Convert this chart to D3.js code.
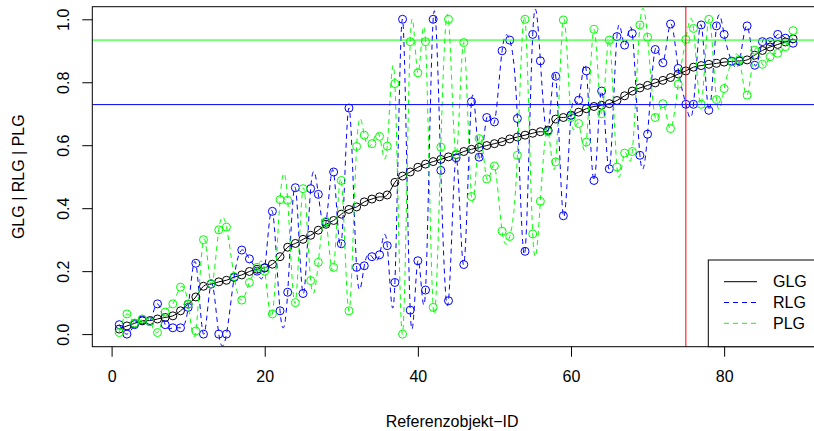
<!DOCTYPE html>
<html>
<head>
<meta charset="utf-8">
<script src="https://cdn.jsdelivr.net/npm/d3@7"></script>
<style>
  body { margin: 0; background: #fff; }
  svg text { font-family: "Liberation Sans", Arial, sans-serif; fill: #000; }
</style>
</head>
<body>
<div id="chart"></div>
<script>
// Reference object IDs 1..89
const ids = d3.range(1, 90);

const glg = [0.016, 0.026, 0.034, 0.042, 0.043, 0.048, 0.053, 0.058, 0.074, 0.095,
  0.118, 0.152, 0.159, 0.166, 0.171, 0.181, 0.188, 0.199, 0.206, 0.211,
  0.222, 0.246, 0.276, 0.288, 0.301, 0.314, 0.330, 0.349, 0.361, 0.381,
  0.396, 0.404, 0.420, 0.429, 0.436, 0.442, 0.482, 0.502, 0.515, 0.530,
  0.540, 0.548, 0.555, 0.563, 0.570, 0.580, 0.587, 0.593, 0.599, 0.605,
  0.611, 0.620, 0.626, 0.632, 0.638, 0.643, 0.648, 0.683, 0.688, 0.695,
  0.705, 0.716, 0.723, 0.727, 0.732, 0.742, 0.757, 0.772, 0.782, 0.790,
  0.798, 0.806, 0.815, 0.826, 0.836, 0.848, 0.853, 0.857, 0.860, 0.864,
  0.866, 0.868, 0.871, 0.886, 0.901, 0.912, 0.920, 0.928, 0.938];

const rlg = [0.030, 0.000, 0.030, 0.045, 0.040, 0.096, 0.030, 0.020, 0.020, 0.085,
  0.225, 0.000, 0.160, 0.000, 0.000, 0.180, 0.267, 0.239, 0.200, 0.210,
  0.390, 0.074, 0.133, 0.465, 0.129, 0.462, 0.444, 0.355, 0.515, 0.287,
  0.718, 0.212, 0.217, 0.246, 0.252, 0.281, 0.164, 1.000, 0.076, 0.233,
  0.140, 1.000, 0.520, 0.106, 0.560, 0.221, 0.738, 0.562, 0.688, 0.674,
  0.900, 0.934, 0.685, 0.263, 0.952, 0.868, 0.645, 0.819, 0.376, 0.695,
  0.743, 0.836, 0.488, 0.772, 0.525, 0.945, 0.918, 0.955, 0.568, 0.635,
  0.904, 0.862, 0.985, 0.844, 0.730, 0.730, 0.982, 0.711, 0.979, 0.952,
  0.867, 0.867, 0.979, 0.854, 0.929, 0.929, 0.952, 0.940, 0.924];

const plg = [0.005, 0.064, 0.035, 0.048, 0.040, 0.005, 0.070, 0.096, 0.149, 0.095,
  0.010, 0.300, 0.160, 0.331, 0.340, 0.183, 0.108, 0.164, 0.212, 0.200,
  0.064, 0.427, 0.425, 0.100, 0.462, 0.170, 0.228, 0.358, 0.212, 0.488,
  0.074, 0.596, 0.632, 0.605, 0.628, 0.597, 0.796, 0.000, 0.929, 0.830,
  0.929, 0.085, 0.594, 1.000, 0.571, 0.926, 0.437, 0.621, 0.493, 0.534,
  0.327, 0.310, 0.568, 1.000, 0.318, 0.422, 0.643, 0.547, 0.998, 0.688,
  0.669, 0.610, 0.968, 0.700, 0.934, 0.531, 0.575, 0.580, 0.982, 0.943,
  0.688, 0.732, 0.653, 0.794, 0.936, 0.971, 0.730, 1.000, 0.745, 0.780,
  0.865, 0.872, 0.759, 0.902, 0.857, 0.881, 0.892, 0.913, 0.964];

const seriesNames = ['GLG', 'RLG', 'PLG'];
const xTicks = [0, 20, 40, 60, 80];
const yTicks = [0, 0.2, 0.4, 0.6, 0.8, 1.0];

// Reference lines
const hLineBlue = 0.729;
const hLineGreen = 0.934;
const vLineRed = 75;

const width = 814, height = 431;
const margin = { left: 92.3, right: -6, top: 6.7, bottom: 84.3 };

const svg = d3.select('#chart')
    .append('svg')
    .attr('width', width)
    .attr('height', height);

// R-style 4% axis extension
const x = d3.scaleLinear()
    .domain([1 - 0.04 * 88, 89 + 0.04 * 88])
    .range([margin.left, width - margin.right]);
const y = d3.scaleLinear()
    .domain([-0.04, 1.04])
    .range([height - margin.bottom, margin.top]);

svg.append('clipPath').attr('id', 'plotclip')
    .append('rect')
    .attr('x', margin.left)
    .attr('y', margin.top)
    .attr('width', width - margin.right - margin.left)
    .attr('height', height - margin.bottom - margin.top);

const plot = svg.append('g').attr('clip-path', 'url(#plotclip)');

const series = [
    { name: 'GLG', values: glg, color: '#000000', dash: null },
    { name: 'RLG', values: rlg, color: '#0000ff', dash: '5,4' },
    { name: 'PLG', values: plg, color: '#00ff00', dash: '5,4' }
];

const line = d3.line()
    .x((d, i) => x(ids[i]))
    .y(d => y(d))
    .curve(d3.curveNatural);

series.forEach(s => {
    plot.append('path')
        .attr('d', line(s.values))
        .attr('fill', 'none')
        .attr('stroke', s.color)
        .attr('stroke-width', 1)
        .attr('stroke-dasharray', s.dash);

    plot.selectAll(null)
        .data(s.values)
        .enter()
        .append('circle')
        .attr('cx', (d, i) => x(ids[i]))
        .attr('cy', d => y(d))
        .attr('r', 4)
        .attr('fill', 'none')
        .attr('stroke', s.color)
        .attr('stroke-width', 1);
});

// abline lines
plot.append('line')
    .attr('x1', margin.left).attr('x2', width - margin.right)
    .attr('y1', y(hLineBlue)).attr('y2', y(hLineBlue))
    .attr('stroke', '#0000ff');
plot.append('line')
    .attr('x1', margin.left).attr('x2', width - margin.right)
    .attr('y1', y(hLineGreen)).attr('y2', y(hLineGreen))
    .attr('stroke', '#00ff00');
plot.append('line')
    .attr('x1', x(vLineRed)).attr('x2', x(vLineRed))
    .attr('y1', margin.top).attr('y2', height - margin.bottom)
    .attr('stroke', '#ff0000');

// Box
svg.append('rect')
    .attr('x', margin.left)
    .attr('y', margin.top)
    .attr('width', width - margin.right - margin.left)
    .attr('height', height - margin.bottom - margin.top)
    .attr('fill', 'none')
    .attr('stroke', '#000');

// X axis
const xAxis = svg.append('g')
    .attr('transform', `translate(0,${height - margin.bottom})`)
    .call(d3.axisBottom(x).tickValues(xTicks).tickSize(10).tickPadding(14).tickFormat(d3.format('d')));
xAxis.select('.domain').remove();
xAxis.selectAll('text').style('font-size', '16px')
    .attr('font-family', '"Liberation Sans", Arial, sans-serif');

// Y axis
const yAxis = svg.append('g')
    .attr('transform', `translate(${margin.left},0)`)
    .call(d3.axisLeft(y).tickValues(yTicks).tickSize(10).tickFormat(d3.format('.1f')));
yAxis.select('.domain').remove();
yAxis.selectAll('text')
    .attr('x', null).attr('y', null).attr('dy', null)
    .attr('text-anchor', 'middle')
    .attr('transform', `translate(${68.5 - margin.left},0) rotate(-90)`)
    .style('font-size', '16px')
    .attr('font-family', '"Liberation Sans", Arial, sans-serif');

// Axis titles
svg.append('text')
    .attr('x', (margin.left + width - margin.right) / 2 - 4)
    .attr('y', 427)
    .attr('text-anchor', 'middle')
    .style('font-size', '16px')
    .text('Referenzobjekt\u2212ID');

svg.append('text')
    .attr('transform', `translate(24,${(margin.top + height - margin.bottom) / 2}) rotate(-90)`)
    .attr('text-anchor', 'middle')
    .style('font-size', '16px')
    .text('GLG | RLG | PLG');

// Legend (bottom right)
const legend = svg.append('g');
legend.append('rect')
    .attr('x', 708.3)
    .attr('y', 260)
    .attr('width', width - margin.right - 708.3)
    .attr('height', height - margin.bottom - 260)
    .attr('fill', '#fff')
    .attr('stroke', '#000');

seriesNames.forEach((name, i) => {
    const s = series[i];
    const ly = 281.7 + i * 20.8;
    legend.append('line')
        .attr('x1', 724).attr('x2', 757)
        .attr('y1', ly).attr('y2', ly)
        .attr('stroke', s.color)
        .attr('stroke-dasharray', s.dash);
    legend.append('text')
        .attr('x', 773)
        .attr('y', ly)
        .attr('dy', '0.36em')
        .style('font-size', '16px')
        .text(name);
});
</script>
</body>
</html>
